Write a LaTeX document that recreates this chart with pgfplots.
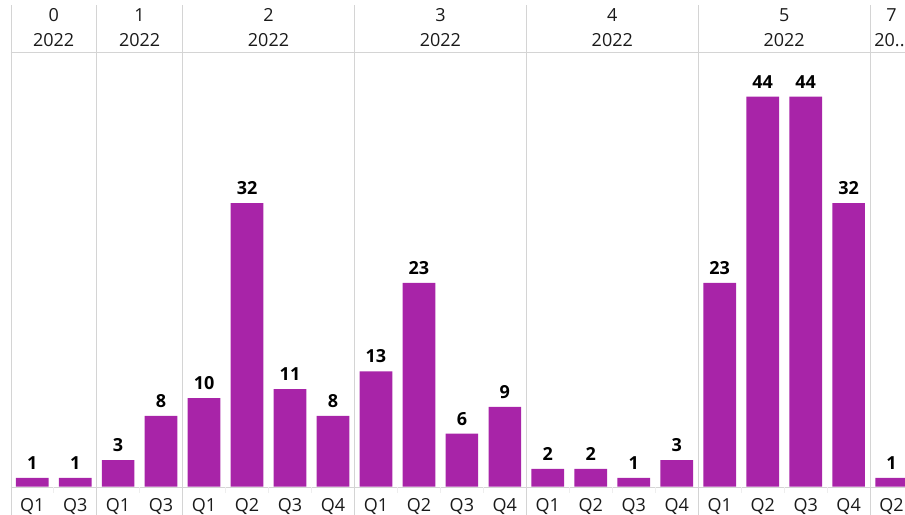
\documentclass[border=0pt]{standalone}
\usepackage{fontspec}
\setmainfont{Open Sans}
\usepackage{pgfplots}
\pgfplotsset{compat=1.18}
\definecolor{barc}{HTML}{A824A8}
\definecolor{gridc}{HTML}{D4D4D4}
\definecolor{faintc}{HTML}{EEEEEE}
\definecolor{labc}{HTML}{1A1A1A}
\newcommand{\lab}{\fontsize{18bp}{20bp}\selectfont}
\tikzset{hdr/.style={anchor=base, font=\lab, text=labc, inner sep=0pt}}
\begin{document}
\begin{tikzpicture}
\path[use as bounding box] (0,0) rectangle (905bp,515bp);
\begin{axis}[
  at={(10.7bp,28.3bp)}, anchor=south west,
  width=894.3bp, height=434.7bp, scale only axis,
  xmin=-0.5, xmax=20.312, ymin=0, ymax=49.04,
  axis line style={draw=none}, ytick=\empty,
  xtick={0,...,20}, major tick length=0pt,
  xticklabels={Q1,Q3,Q1,Q3,Q1,Q2,Q3,Q4,Q1,Q2,Q3,Q4,Q1,Q2,Q3,Q4,Q1,Q2,Q3,Q4,Q2},
  xticklabel style={anchor=base, yshift=-24.3bp, text=labc, font=\lab, inner sep=0pt},
  clip=false,
  /pgf/number format/assume math mode=true,
  nodes near coords={\textbf{\pgfmathprintnumber{\pgfplotspointmeta}}},
  every node near coord/.append style={font=\lab, anchor=base, yshift=8.5bp, text=black, inner sep=0pt},
]
% grid lines
\draw[gridc] (axis cs:-0.5,0) -- (axis cs:20.312,0);
\draw[gridc] (axis cs:-0.5,49.04) -- (axis cs:20.312,49.04);
\pgfplotsinvokeforeach{-0.5,1.5,3.5,7.5,11.5,15.5,19.5}{
  \draw[gridc] (axis cs:#1,54.34) -- (axis cs:#1,-3.19);
}
\pgfplotsinvokeforeach{0.5,2.5,4.5,5.5,6.5,8.5,9.5,10.5,12.5,13.5,14.5,16.5,17.5,18.5}{
  \draw[faintc] (axis cs:#1,0) -- (axis cs:#1,-0.7);
}
\addplot[ybar, bar width=32.7bp, fill=barc, draw=none] coordinates {
 (0,1) (1,1)
 (2,3) (3,8)
 (4,10) (5,32) (6,11) (7,8)
 (8,13) (9,23) (10,6) (11,9)
 (12,2) (13,2) (14,1) (15,3)
 (16,23) (17,44) (18,44) (19,32)
 (20,1)
};
% header
\node[hdr] at (axis cs:0.5,52.46) {0};   \node[hdr] at (axis cs:0.5,49.64) {2022};
\node[hdr] at (axis cs:2.5,52.46) {1};   \node[hdr] at (axis cs:2.5,49.64) {2022};
\node[hdr] at (axis cs:5.5,52.46) {2};   \node[hdr] at (axis cs:5.5,49.64) {2022};
\node[hdr] at (axis cs:9.5,52.46) {3};   \node[hdr] at (axis cs:9.5,49.64) {2022};
\node[hdr] at (axis cs:13.5,52.46) {4};  \node[hdr] at (axis cs:13.5,49.64) {2022};
\node[hdr] at (axis cs:17.5,52.46) {5};  \node[hdr] at (axis cs:17.5,49.64) {2022};
\node[hdr] at (axis cs:20.0,52.46) {7};  \node[hdr] at (axis cs:19.95,49.64) {20..};
\end{axis}
\end{tikzpicture}
\end{document}
